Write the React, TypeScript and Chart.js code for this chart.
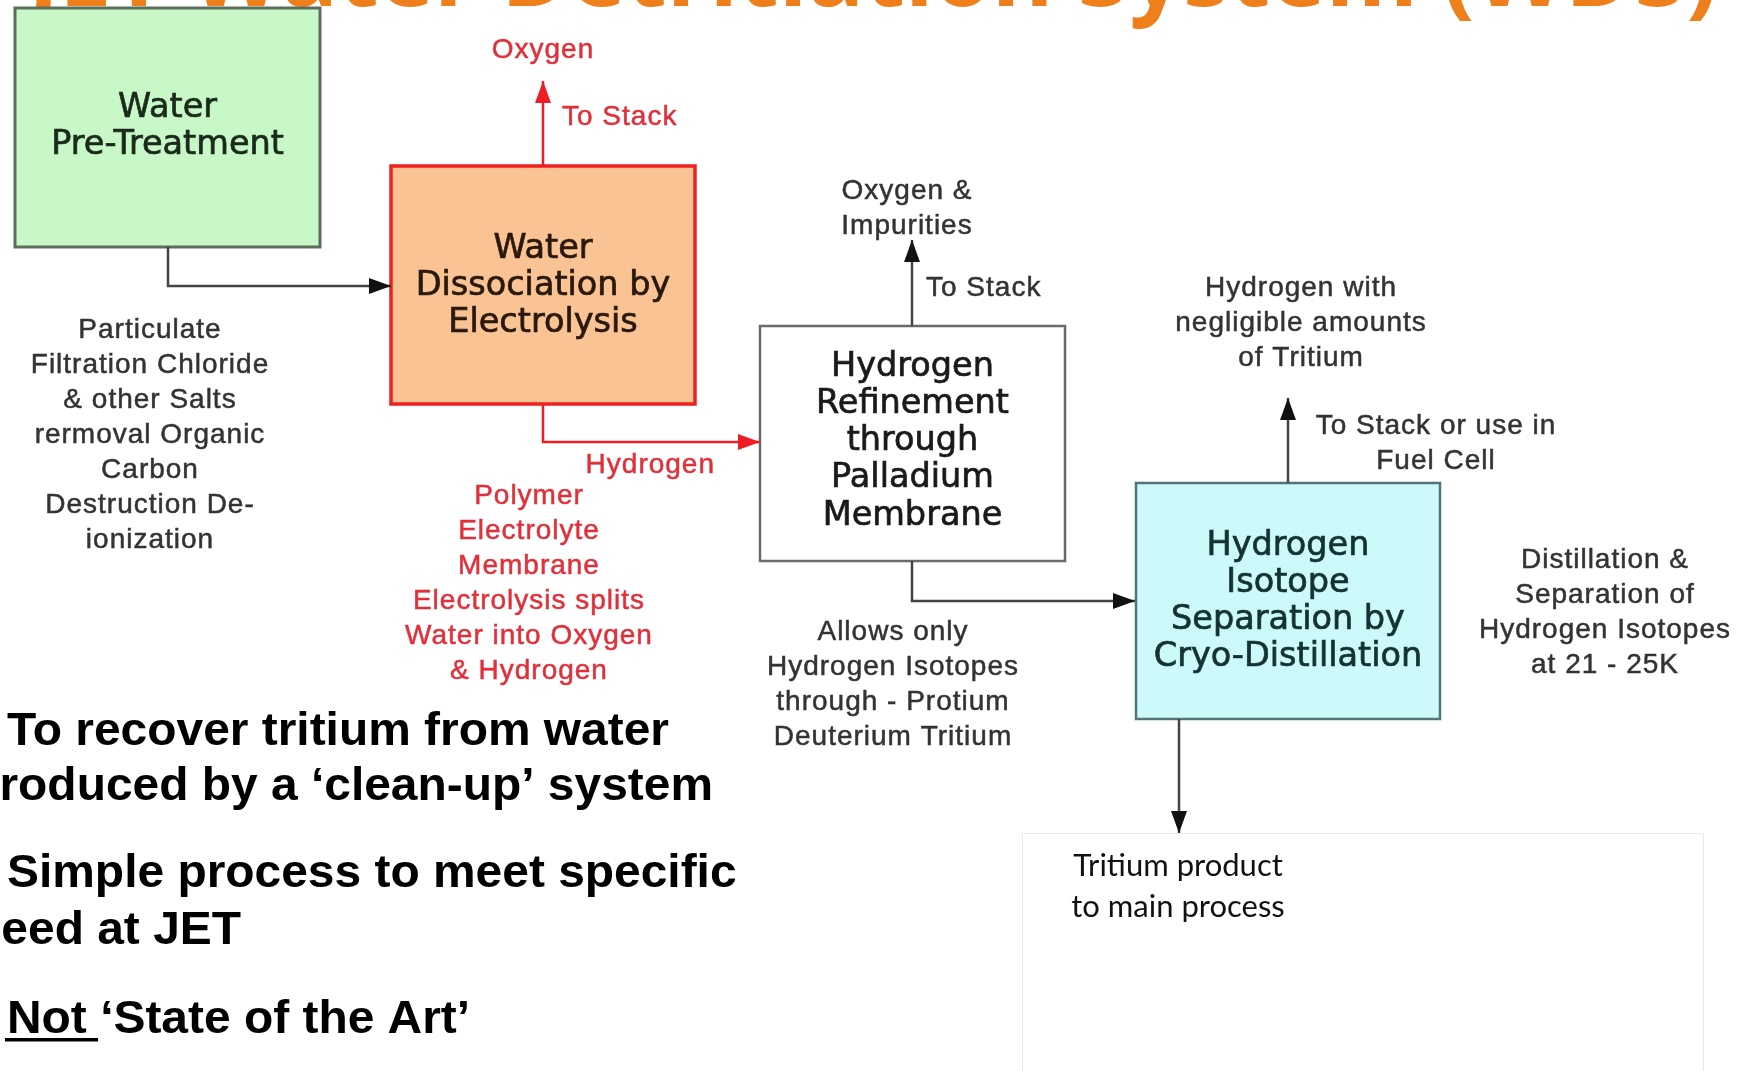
import React, { useEffect, useRef } from "react";
import { Chart, registerables } from "chart.js";

Chart.register(...registerables);

const W = 1739;
const H = 1071;

// ---- content ----
const TITLE = "JET Water Detritiation System (WDS)";

const boxLabels: string[][] = [
  ["Water", "Pre-Treatment"],
  ["Water", "Dissociation by", "Electrolysis"],
  ["Hydrogen", "Refinement", "through", "Palladium", "Membrane"],
  ["Hydrogen", "Isotope", "Separation by", "Cryo-Distillation"],
];
// box extents in diagram units
const boxLeft = [15, 391, 760, 1136];
const boxRight = [320, 695, 1065, 1440];
const boxTop = [8, 166, 326, 483];
const boxBottom = [247, 404, 561, 719];
const boxTextTop = [108, 249, 367, 546];

// flows: polylines ending with an arrow tip
const flowPoints: number[][][] = [
  [[168, 247], [168, 286], [391, 286]],
  [[543, 166], [543, 81]],
  [[543, 404], [543, 442], [760, 442]],
  [[912, 326], [912, 240]],
  [[912, 561], [912, 601], [1135, 601]],
  [[1288, 483], [1288, 398]],
  [[1179, 719], [1179, 833]],
];
const flowIsRed = [false, true, true, false, false, false, false];

// annotations
const annoLines: string[][] = [
  ["Oxygen"],
  ["To Stack"],
  ["Hydrogen"],
  ["Polymer", "Electrolyte", "Membrane", "Electrolysis splits", "Water into Oxygen", "& Hydrogen"],
  ["Particulate", "Filtration Chloride", "& other Salts", "rermoval Organic", "Carbon", "Destruction De-", "ionization"],
  ["Oxygen &", "Impurities"],
  ["To Stack"],
  ["Hydrogen with", "negligible amounts", "of Tritium"],
  ["To Stack or use in", "Fuel Cell"],
  ["Allows only", "Hydrogen Isotopes", "through - Protium", "Deuterium Tritium"],
  ["Distillation &", "Separation of", "Hydrogen Isotopes", "at 21 - 25K"],
];
const annoX = [543, 562, 715, 529, 150, 907, 926, 1301, 1436, 893, 1605];
const annoY = [50, 117, 465, 496, 330, 191, 288, 288, 426, 632, 560];
const annoAlign: CanvasTextAlign[] = ["center", "left", "right", "center", "center", "center", "left", "center", "center", "center", "center"];
const annoIsRed = [true, true, true, true, false, false, false, false, false, false, false];

const productLines = ["Tritium product", "to main process"];
const productX = 1178;
const productY = [866, 907];

const bulletLines = [
  "To recover tritium from water",
  "produced by a \u2018clean-up\u2019 system",
  "Simple process to meet specific",
  "need at JET",
  "Not \u2018State of the Art\u2019",
];
const bulletX = [7, 713, 7, 241, 7];
const bulletBase = [745, 800, 887, 944, 1033];
const bulletAlign: CanvasTextAlign[] = ["left", "right", "left", "right", "left"];

// ---- styles ----
const boxFill = ["#c8f7c8", "#f9c393", "#ffffff", "#ccfafa"];
const boxStroke = ["#5b6e5b", "#ee2020", "#6a6a6a", "#557477"];
const boxStrokeW = [3, 3.5, 2.5, 2.5];
const boxTextColor = ["#1a2a1a", "#2a180c", "#1a1a1a", "#143232"];
const RED = "#ee1c24";
const RED_TEXT = "#e0303a";
const DARK = "#444444";
const GRAY_TEXT = "#333333";

export default function App() {
  const ref = useRef<HTMLCanvasElement>(null);

  useEffect(() => {
    document.body.style.margin = "0";
    document.body.style.background = "#ffffff";
    const canvas = ref.current;
    if (!canvas) return;

    const diagram = {
      id: "diagram",
      beforeDatasetsDraw(chart: any) {
        const ctx: CanvasRenderingContext2D = chart.ctx;
        const sx = chart.scales.x;
        const sy = chart.scales.y;
        const px = (v: number) => sx.getPixelForValue(v);
        const py = (v: number) => sy.getPixelForValue(v);
        ctx.save();
        // title (mostly cut off at the top)
        ctx.fillStyle = "#ef7f1a";
        ctx.font = "bold 95px 'Open Sans', 'DejaVu Sans', sans-serif";
        ctx.textAlign = "left";
        ctx.textBaseline = "alphabetic";
        ctx.fillText(TITLE, px(28), py(6), 1690);

        // faint frame around product text
        ctx.strokeStyle = "#e6ebf1";
        ctx.lineWidth = 1;
        ctx.strokeRect(px(1022) + 0.5, py(833) + 0.5, px(1703) - px(1022), py(1080) - py(833));

        // boxes
        for (let i = 0; i < boxLabels.length; i++) {
          const x0 = px(boxLeft[i]);
          const x1 = px(boxRight[i]);
          const y0 = py(boxTop[i]);
          const y1 = py(boxBottom[i]);
          ctx.fillStyle = boxFill[i];
          ctx.fillRect(x0, y0, x1 - x0, y1 - y0);
          ctx.strokeStyle = boxStroke[i];
          ctx.lineWidth = boxStrokeW[i];
          ctx.strokeRect(x0, y0, x1 - x0, y1 - y0);
        }
        ctx.restore();
      },
      afterDatasetsDraw(chart: any) {
        const ctx: CanvasRenderingContext2D = chart.ctx;
        const sx = chart.scales.x;
        const sy = chart.scales.y;
        const px = (v: number) => sx.getPixelForValue(v);
        const py = (v: number) => sy.getPixelForValue(v);
        ctx.save();

        // arrow heads
        flowPoints.forEach((pts, i) => {
          const n = pts.length;
          const tx = px(pts[n - 1][0]);
          const ty = py(pts[n - 1][1]);
          const fx = px(pts[n - 2][0]);
          const fy = py(pts[n - 2][1]);
          const len = Math.hypot(tx - fx, ty - fy) || 1;
          const ux = (tx - fx) / len;
          const uy = (ty - fy) / len;
          const L = 22;
          const hw = 8;
          ctx.fillStyle = flowIsRed[i] ? RED : "#111111";
          ctx.beginPath();
          ctx.moveTo(tx, ty);
          ctx.lineTo(tx - ux * L - uy * hw, ty - uy * L + ux * hw);
          ctx.lineTo(tx - ux * L + uy * hw, ty - uy * L - ux * hw);
          ctx.closePath();
          ctx.fill();
        });

        // box labels
        ctx.textBaseline = "middle";
        ctx.textAlign = "center";
        ctx.font = "33.5px 'DejaVu Sans', Verdana, sans-serif";
        ctx.lineWidth = 0.7;
        for (let i = 0; i < boxLabels.length; i++) {
          ctx.fillStyle = boxTextColor[i];
          ctx.strokeStyle = boxTextColor[i];
          const cx = px((boxLeft[i] + boxRight[i]) / 2);
          boxLabels[i].forEach((t, j) => {
            const yy = py(boxTextTop[i] + j * 37.2);
            ctx.fillText(t, cx, yy);
            ctx.strokeText(t, cx, yy);
          });
        }

        // annotations
        ctx.font = "28px 'Liberation Sans', Arial, sans-serif";
        (ctx as any).letterSpacing = "1px";
        ctx.lineWidth = 0.5;
        annoLines.forEach((lines, i) => {
          ctx.fillStyle = annoIsRed[i] ? RED_TEXT : GRAY_TEXT;
          ctx.strokeStyle = annoIsRed[i] ? RED_TEXT : GRAY_TEXT;
          ctx.textAlign = annoAlign[i];
          lines.forEach((t, j) => {
            const xx = px(annoX[i]);
            const yy = py(annoY[i] + j * 35);
            ctx.fillText(t, xx, yy);
            ctx.strokeText(t, xx, yy);
          });
        });
        (ctx as any).letterSpacing = "0px";

        // product text
        ctx.fillStyle = "#111111";
        ctx.textAlign = "center";
        ctx.font = "31px Lato, 'Open Sans', sans-serif";
        productLines.forEach((t, j) => {
          ctx.fillText(t, px(productX), py(productY[j]), 222);
        });

        // bullets
        ctx.fillStyle = "#000000";
        ctx.textBaseline = "alphabetic";
        ctx.font = "bold 47px 'Liberation Sans', Arial, sans-serif";
        const target = 662;
        const hs = target / ctx.measureText(bulletLines[0]).width;
        bulletLines.forEach((t, i) => {
          ctx.save();
          ctx.translate(px(bulletX[i]), py(bulletBase[i]));
          ctx.scale(hs, 1);
          ctx.textAlign = bulletAlign[i];
          ctx.fillText(t, 0, 0);
          if (i === 4) {
            const uw = ctx.measureText("Not ").width;
            ctx.fillRect(-2, 5, uw, 3.5);
          }
          ctx.restore();
        });

        ctx.restore();
      },
    };

    const chart = new Chart(canvas, {
      type: "scatter",
      data: {
        datasets: flowPoints.map((pts, i) => ({
          label: "flow" + i,
          data: pts.map((p) => ({ x: p[0], y: p[1] })),
          showLine: true,
          borderColor: flowIsRed[i] ? RED : DARK,
          borderWidth: 2.5,
          pointRadius: 0,
          pointHoverRadius: 0,
          tension: 0,
          fill: false,
          clip: false as any,
        })),
      },
      options: {
        animation: false,
        responsive: false,
        maintainAspectRatio: false,
        devicePixelRatio: 1,
        layout: { padding: 0 },
        events: [],
        scales: {
          x: { type: "linear", min: 0, max: W, display: false },
          y: { type: "linear", min: 0, max: H, reverse: true, display: false },
        },
        plugins: {
          legend: { display: false },
          tooltip: { enabled: false },
          title: { display: false },
        },
      },
      plugins: [diagram],
    });
    return () => chart.destroy();
  }, []);

  return (
    <canvas
      ref={ref}
      width={W}
      height={H}
      style={{ display: "block", width: W + "px", height: H + "px" }}
    />
  );
}
